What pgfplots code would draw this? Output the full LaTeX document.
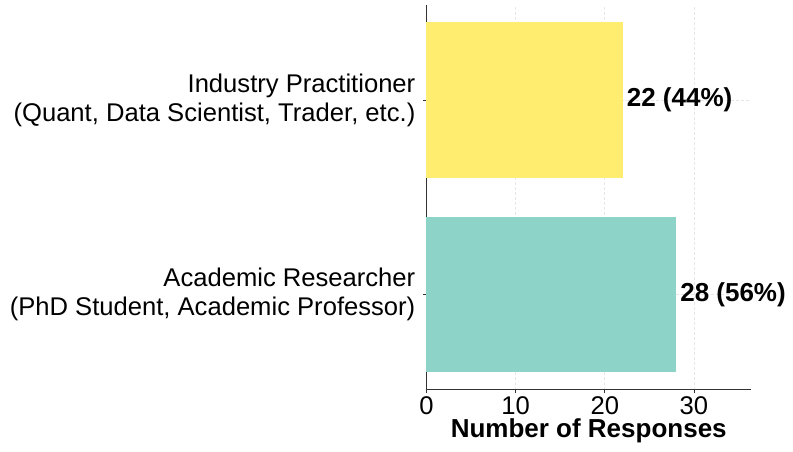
\documentclass[border=0pt]{standalone}
\usepackage{pgfplots}
\pgfplotsset{compat=1.18}
\usepackage{fontspec}
\setmainfont{Liberation Sans}
\definecolor{setyellow}{HTML}{FFED6F}
\definecolor{setteal}{HTML}{8DD3C7}
\definecolor{gridc}{HTML}{E6E6E6}
\definecolor{axc}{HTML}{333333}
\newcommand{\bigf}{\fontsize{25.6}{29}\selectfont}
\begin{document}
\begin{tikzpicture}
\path[use as bounding box] (-426.5pt,-62pt) rectangle (366.5pt,390pt);
\begin{axis}[
  at={(0pt,0pt)}, anchor=south west,
  scale only axis,
  width=324.5pt, height=385pt,
  xbar, bar width=0.8, bar shift=0pt,
  xmin=0, xmax=36.4, ymin=-0.49, ymax=1.49,
  xtick={0,10,20,30},
  ytick={0,1},
  yticklabels={{Academic Researcher\\(PhD Student, Academic Professor)},{Industry Practitioner\\(Quant, Data Scientist, Trader, etc.)}},
  yticklabel style={align=right, font=\bigf, inner xsep=7.5pt},
  xticklabel style={font=\bigf, inner ysep=2.5pt},
  /pgf/number format/assume math mode=true,
  axis x line*=bottom, axis y line*=left,
  axis line style={-, axc, line width=1pt},
  tick align=outside, major tick length=3.5pt,
  tick style={axc, line width=0.8pt},
  grid=major, major grid style={dash pattern=on 3pt off 2pt, gridc, line width=0.6pt},
  xlabel={\textbf{Number of Responses}},
  xlabel style={font=\fontsize{26}{26}\selectfont, inner sep=2pt},
  nodes near coords, point meta=explicit symbolic,
  nodes near coords style={font=\bfseries\fontsize{26}{26}\selectfont, anchor=west, inner xsep=4pt, text=black},
  clip=false,
]
\addplot[fill=setteal, draw=none] coordinates {(28,0) [28 (56\%)]};
\addplot[fill=setyellow, draw=none] coordinates {(22,1) [22 (44\%)]};
\end{axis}
\end{tikzpicture}
\end{document}
